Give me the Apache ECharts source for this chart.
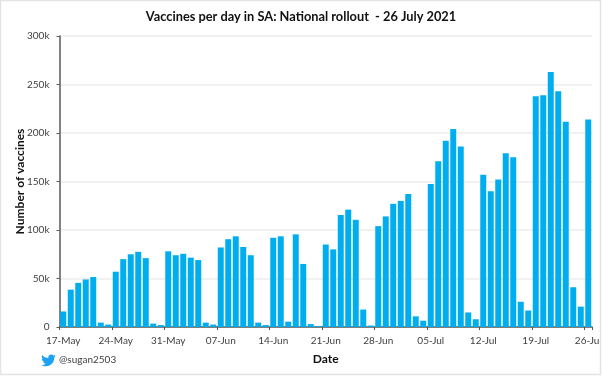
<!DOCTYPE html>
<html><head><meta charset="utf-8">
<style>html,body{margin:0;padding:0;background:#fff}#c{width:602px;height:376px}</style>
<script src="https://cdn.jsdelivr.net/npm/echarts@6/dist/echarts.min.js"></script>
</head><body><div id="c"></div>
<script>
const titleText = 'Vaccines per day in SA: National rollout  - 26 July 2021';
const xName = 'Date';
const yName = 'Number of vaccines';
const handle = '@sugan2503';
const weekLabels = ['17-May','24-May','31-May','07-Jun','14-Jun','21-Jun','28-Jun','05-Jul','12-Jul','19-Jul','26-Jul'];
const valuesK = [
  16,38.5,45.5,49,51.5,4.5,2.5,
  57,70,75,77.5,71,3.5,2,
  78,74,75.5,71.5,69,4.5,2.5,
  82,90.5,93.5,82.5,74,4.5,2,
  92,93.5,5.5,95.5,65,3,1,
  85,80,115.5,121,110.5,18,1.5,
  104,114,127,130,137,11,6.5,
  147.5,171,192,204,186,15,8,
  157,140,152,179,175,26,17,
  238,239,263,243,211.5,41,21,
  214
];
const values = valuesK.map(v => v * 1000);
const categories = values.map((_, i) => i % 7 === 0 ? weekLabels[i / 7] : '');
const bird = 'M23.95 4.57a10 10 0 0 1-2.82.77 4.96 4.96 0 0 0 2.16-2.72c-.95.56-2 .96-3.12 1.19a4.92 4.92 0 0 0-8.38 4.48C7.69 8.1 4.07 6.13 1.64 3.16a4.82 4.82 0 0 0-.67 2.48c0 1.71.87 3.21 2.19 4.1a4.9 4.9 0 0 1-2.23-.62v.06a4.92 4.92 0 0 0 3.95 4.83 5 5 0 0 1-2.21.08 4.94 4.94 0 0 0 4.6 3.42A9.87 9.87 0 0 1 0 19.54a13.94 13.94 0 0 0 7.55 2.21c9.05 0 14-7.5 14-13.98 0-.21 0-.42-.01-.63a10 10 0 0 0 2.41-2.57z';
const birdImage = 'data:image/svg+xml;utf8,' + encodeURIComponent('<svg xmlns="http://www.w3.org/2000/svg" viewBox="0 1.5 24 21.5" width="15" height="13"><path fill="#1DA1F2" d="' + bird + '"/></svg>');
const font = 'Lato, "Open Sans", sans-serif';
const chart = echarts.init(document.getElementById('c'), null, {renderer:'canvas'});
chart.setOption({
  animation:false,
  backgroundColor:'#fff',
  title:{text:titleText,left:296,top:5,textAlign:'center',textStyle:{fontFamily:font,fontSize:12.8,fontWeight:'bold',color:'#111'}},
  grid:{left:59.5,right:10,top:36,bottom:49,containLabel:false,outerBoundsMode:'none'},
  xAxis:{type:'category',data:categories,boundaryGap:true,name:xName,nameLocation:'middle',nameGap:26,nameMoveOverlap:false,
    nameTextStyle:{fontFamily:font,fontSize:12,fontWeight:'bold',color:'#111'},
    axisLine:{lineStyle:{color:'#595959',width:1.5}},
    axisTick:{show:true,length:3,interval:(i)=>i%7===0,lineStyle:{color:'#595959'}},
    axisLabel:{interval:(i)=>i%7===0,hideOverlap:false,showMaxLabel:true,fontFamily:font,fontSize:10,color:'#404040',margin:9},
    splitLine:{show:false}},
  yAxis:{type:'value',min:0,max:300000,interval:50000,name:yName,nameLocation:'middle',nameGap:33,nameMoveOverlap:false,
    nameTextStyle:{fontFamily:font,fontSize:12,fontWeight:'bold',color:'#111'},
    axisLine:{show:true,lineStyle:{color:'#595959',width:1.5}},
    axisTick:{show:true,length:3,lineStyle:{color:'#595959'}},
    axisLabel:{formatter:v=>v===0?'0':(v/1000)+'k',fontFamily:font,fontSize:10,color:'#404040',margin:10},
    splitLine:{lineStyle:{color:'#ececec',width:1.5}}},
  series:[{type:'bar',data:values,barCategoryGap:'20%',itemStyle:{color:'#00AEEF'}}],
  graphic:[
    {type:'rect',z:100,shape:{x:0.5,y:0.5,width:600,height:374},style:{fill:'none',stroke:'#e3e3e3',lineWidth:1.5}},
    {type:'image',z:100,x:41,y:354,style:{image:birdImage,width:15,height:13}},
    {type:'text',z:100,x:59,y:355,style:{text:handle,fontFamily:font,fontSize:10,fill:'#404040'}}
  ]
});
</script></body></html>
